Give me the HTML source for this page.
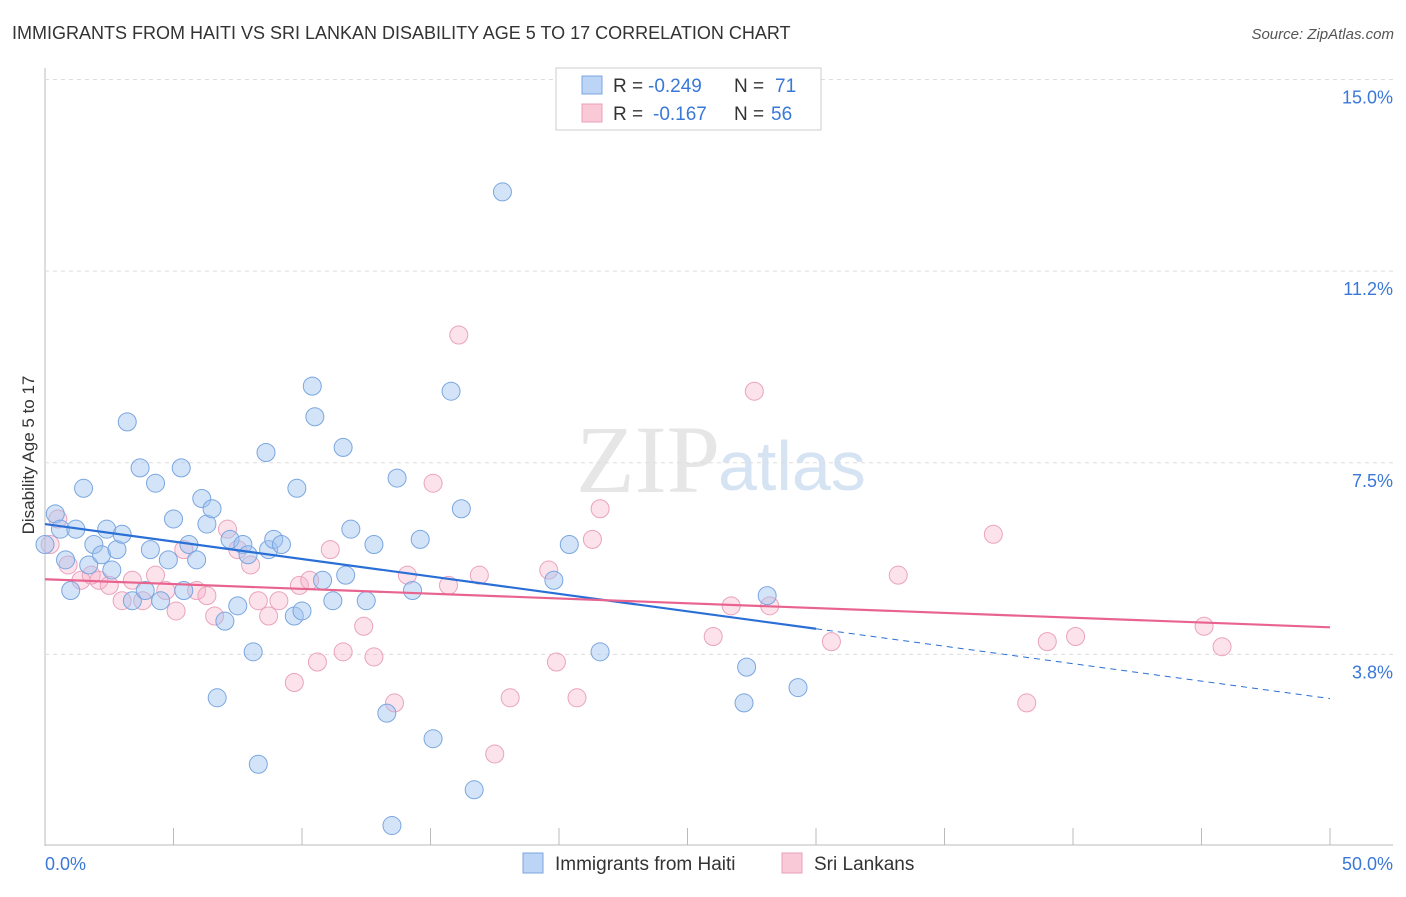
<!DOCTYPE html>
<html><head><meta charset="utf-8"><style>
body{margin:0;background:#fff;font-family:"Liberation Sans",sans-serif}
</style></head><body>
<svg id="c" width="1406" height="892" xmlns="http://www.w3.org/2000/svg">
<text x="12" y="39" font-size="18" fill="#333">IMMIGRANTS FROM HAITI VS SRI LANKAN DISABILITY AGE 5 TO 17 CORRELATION CHART</text>
<text x="1394" y="39" font-size="15" fill="#555" font-style="italic" text-anchor="end">Source: ZipAtlas.com</text>
<text x="720" y="492" font-size="96" fill="#e6e6e6" text-anchor="end" font-family="Liberation Serif,serif">ZIP</text>
<text x="718" y="490" font-size="70" fill="#d5e3f3">atlas</text>
<text transform="translate(34,455) rotate(-90)" font-size="17" fill="#333" text-anchor="middle">Disability Age 5 to 17</text>
<g id="grid"></g><g id="pts"></g><g id="lines"></g>
<g>
<rect x="556" y="68" width="265" height="62" fill="#fff" stroke="#ccc"/>
<rect x="582" y="76" width="20" height="18" fill="#bcd4f5" stroke="#7aa6e0"/>
<rect x="582" y="104" width="20" height="18" fill="#f9c9d8" stroke="#e9a0ba"/>
<text x="613" y="92" font-size="19" fill="#333">R =</text>
<text x="648" y="92" font-size="19" fill="#3a78d8">-0.249</text>
<text x="734" y="92" font-size="19" fill="#333">N =</text>
<text x="775" y="92" font-size="19" fill="#3a78d8">71</text>
<text x="613" y="120" font-size="19" fill="#333">R =</text>
<text x="653" y="120" font-size="19" fill="#3a78d8">-0.167</text>
<text x="734" y="120" font-size="19" fill="#333">N =</text>
<text x="771" y="120" font-size="19" fill="#3a78d8">56</text>
</g>
<g>
<rect x="523" y="853" width="20" height="20" fill="#bcd4f5" stroke="#7aa6e0"/>
<text x="555" y="870" font-size="19" fill="#333">Immigrants from Haiti</text>
<rect x="782" y="853" width="20" height="20" fill="#f9c9d8" stroke="#e9a0ba"/>
<text x="814" y="870" font-size="19" fill="#333">Sri Lankans</text>
</g>
</svg>
<script>
const yTicks=[3.75,7.5,11.25,15];
const yTickLabels=["3.8%","7.5%","11.2%","15.0%"];
const xTickLabels=["0.0%","50.0%"];
const haitiX=[0.4,0.6,0.8,1.0,1.2,1.5,1.7,1.9,2.2,2.4,2.6,2.8,3.0,3.2,3.4,3.7,3.9,4.1,4.3,4.5,4.8,5.0,5.3,5.4,5.6,5.9,6.1,6.3,6.5,6.7,7.0,7.2,7.5,7.7,7.9,8.1,8.3,8.6,8.7,8.9,9.2,9.7,9.8,10.0,10.4,10.5,10.8,11.2,11.6,11.7,11.9,12.5,12.8,13.3,13.7,14.3,14.6,15.1,15.8,16.2,16.7,17.8,19.8,20.4,21.6,27.3,27.2,28.1,29.3,13.5,0.0];
const haitiY=[6.5,6.2,5.6,5.0,6.2,7.0,5.5,5.9,5.7,6.2,5.4,5.8,6.1,8.3,4.8,7.4,5.0,5.8,7.1,4.8,5.6,6.4,7.4,5.0,5.9,5.6,6.8,6.3,6.6,2.9,4.4,6.0,4.7,5.9,5.7,3.8,1.6,7.7,5.8,6.0,5.9,4.5,7.0,4.6,9.0,8.4,5.2,4.8,7.8,5.3,6.2,4.8,5.9,2.6,7.2,5.0,6.0,2.1,8.9,6.6,1.1,12.8,5.2,5.9,3.8,3.5,2.8,4.9,3.1,0.4,5.9];
const slX=[0.2,0.5,0.9,1.4,1.8,2.1,2.5,3.0,3.4,3.8,4.3,4.7,5.1,5.4,5.9,6.3,6.6,7.1,7.5,8.0,8.3,8.7,9.1,9.7,9.9,10.3,10.6,11.1,11.6,12.4,12.8,13.6,14.1,15.1,15.7,16.1,16.9,17.5,18.1,19.6,19.9,20.7,21.3,21.6,26.0,26.7,27.6,28.2,30.6,33.2,36.9,38.2,39.0,40.1,45.1,45.8];
const slY=[5.9,6.4,5.5,5.2,5.3,5.2,5.1,4.8,5.2,4.8,5.3,5.0,4.6,5.8,5.0,4.9,4.5,6.2,5.8,5.5,4.8,4.5,4.8,3.2,5.1,5.2,3.6,5.8,3.8,4.3,3.7,2.8,5.3,7.1,5.1,10.0,5.3,1.8,2.9,5.4,3.6,2.9,6.0,6.6,4.1,4.7,8.9,4.7,4.0,5.3,6.1,2.8,4.0,4.1,4.3,3.9];
const haitiFit=[6.30,-0.0683];
const slFit=[5.22,-0.0188];
const NS="http://www.w3.org/2000/svg";
const X=v=>45+v*25.7, Y=v=>846-v*51.1;
function mk(t,a,p){const e=document.createElementNS(NS,t);for(const k in a)e.setAttribute(k,a[k]);p.appendChild(e);return e;}
const grid=document.getElementById('grid');
mk('line',{x1:45,y1:68,x2:45,y2:846,stroke:'#bbb'},grid);
mk('line',{x1:45,y1:845,x2:1393,y2:845,stroke:'#bbb'},grid);
yTicks.forEach((t,i)=>{
 const g=mk('line',{x1:45,y1:Y(t),x2:1393,y2:Y(t),stroke:'#ddd','stroke-dasharray':'4,4'},grid);
 
 
 const l=mk('text',{x:1393,y:Y(t)+24,'font-size':18,fill:'#3a78d8','text-anchor':'end'},grid);
 l.textContent=yTickLabels[i];
 
 
});
for(let k=0;k<=10;k++){const x=X(k*5);mk('line',{x1:x,y1:828,x2:x,y2:845,stroke:'#bbb'},grid);}
xTickLabels.forEach((s,i)=>{
 const l=mk('text',{x:i?1393:45,y:870,'font-size':18,fill:'#3a78d8','text-anchor':i?'end':'start'},grid);
 l.textContent=s;
 
 
});
const pts=document.getElementById('pts');
slX.forEach((x,i)=>{
 const c=mk('circle',{cx:X(x),cy:Y(slY[i]),r:9,fill:'rgba(246,172,198,0.35)',stroke:'#eaa3bd','stroke-width':1},pts);
 
 
});
haitiX.forEach((x,i)=>{
 const c=mk('circle',{cx:X(x),cy:Y(haitiY[i]),r:9,fill:'rgba(160,196,240,0.45)',stroke:'#7aa6e0','stroke-width':1},pts);
 
 
});
const ln=document.getElementById('lines');
const hf=x=>haitiFit[0]+haitiFit[1]*x, sf=x=>slFit[0]+slFit[1]*x;
let a=mk('line',{x1:X(0),y1:Y(hf(0)),x2:X(30),y2:Y(hf(30)),stroke:'#2a6fd6','stroke-width':2.2},ln);


a=mk('line',{x1:X(30),y1:Y(hf(30)),x2:X(50),y2:Y(hf(50)),stroke:'#2a6fd6','stroke-width':1,'stroke-dasharray':'6,5'},ln);


a=mk('line',{x1:X(0),y1:Y(sf(0)),x2:X(50),y2:Y(sf(50)),stroke:'#e8648f','stroke-width':2.2},ln);


</script>
</body></html>
